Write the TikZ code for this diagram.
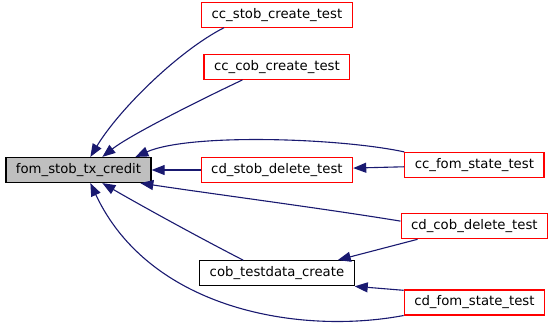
\documentclass[tikz,border=0pt]{standalone}
\usepackage{fontspec}
\setmainfont{DejaVu Sans}
\usepackage{xcolor}
\usepackage{tikz}
\usetikzlibrary{arrows.meta,positioning}
\definecolor{callNavy}{HTML}{191970}
\definecolor{testRed}{HTML}{FF0000}
\definecolor{focusGray}{HTML}{BFBFBF}
\tikzset{
  funcBox/.style={
    rectangle,
    draw=black,
    fill=white,
    line width=1.2bp,
    minimum height=25bp,
    inner xsep=10bp,
    inner ysep=0pt,
    font=\fontsize{13.3}{15}\selectfont
  },
  focusBox/.style={
    funcBox,
    fill=focusGray
  },
  testBox/.style={
    funcBox,
    draw=testRed
  },
  callArrow/.style={
    -{Triangle[length=13bp,width=10bp]},
    line width=1.1bp,
    draw=callNavy
  }
}

\begin{document}
\begin{tikzpicture}[x=1bp,y=-1bp]
  \useasboundingbox (0,0) rectangle (555,327);
  \node[focusBox] (credit) at (78.5,170) {fom\_stob\_tx\_credit};
  \node[testBox,right=49bp of credit] (cdstob) {cd\_stob\_delete\_test};
  \node[testBox,above=77bp of cdstob] (cccob) {cc\_cob\_create\_test};
  \node[testBox,above=26bp of cccob] (ccstob) {cc\_stob\_create\_test};
  \node[funcBox,below=77bp of cdstob] (cobdata) {cob\_testdata\_create};
  \node[testBox,right=51bp of cdstob,yshift=5bp] (ccfom) {cc\_fom\_state\_test};
  \node[testBox,below=35bp of ccfom] (cdcob) {cd\_cob\_delete\_test};
  \node[testBox,below=50bp of cdcob] (cdfom) {cd\_fom\_state\_test};
  % callers of the credit function
  \draw[callArrow] ([xshift=23bp]ccstob.south west) .. controls (180,50) and (120,108) .. ([xshift=85bp]credit.north west);
  \draw[callArrow] ([xshift=39bp]cccob.south west) .. controls (200,100) and (130,135) .. ([xshift=97bp]credit.north west);
  \draw[callArrow] (ccfom.north west) .. controls (340,138) and (190,133) .. ([xshift=130bp]credit.north west);
  \draw[callArrow] (cdstob) -- (credit);
  \draw[callArrow] ([yshift=-8bp]cdcob.north west) .. controls (320,208) and (220,195) .. ([xshift=135bp]credit.south west);
  \draw[callArrow] ([xshift=44bp]cobdata.north west) .. controls (200,238) and (140,205) .. ([xshift=97bp]credit.south west);
  \draw[callArrow] (cdfom.south west) .. controls (300,335) and (150,310) .. ([xshift=85bp]credit.south west);
  % second level callers
  \draw[callArrow] (ccfom) -- (cdstob);
  \draw[callArrow] ([xshift=17bp]cdcob.south west) -- ([xshift=-17bp]cobdata.north east);
  \draw[callArrow] ([yshift=-1bp]cdfom.north west) -- (cobdata.south east);
\end{tikzpicture}
\end{document}
